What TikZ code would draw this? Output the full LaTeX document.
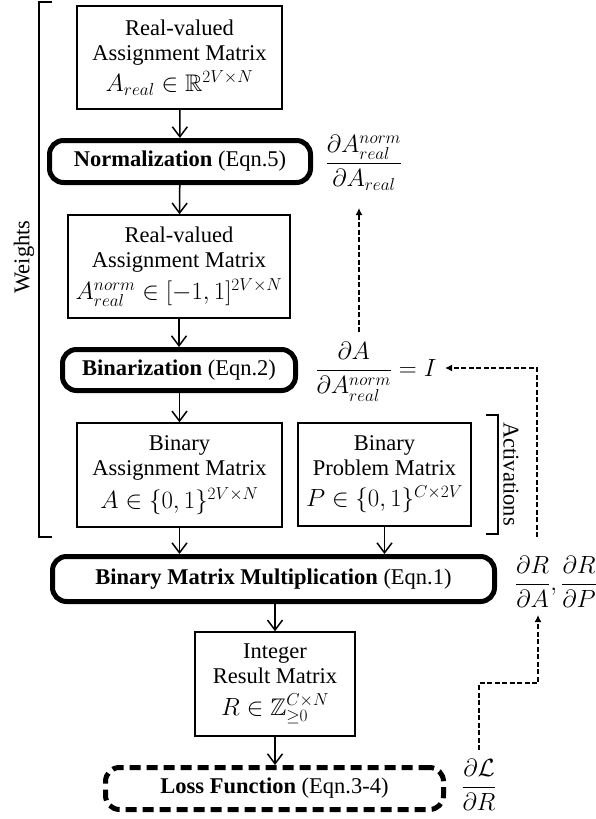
\documentclass[tikz,border=0pt]{standalone}
\usepackage{amsmath,amssymb}
\usepackage{fontspec}
\setmainfont{Liberation Serif}
\usetikzlibrary{arrows.meta}
\newcommand{\mth}[1]{{\fontsize{24}{27}\selectfont$#1$}}
\newcommand{\glab}[1]{{\fontsize{25}{28}\selectfont$\displaystyle #1$}}
\begin{document}
\begin{tikzpicture}[x=1pt,y=-1pt,
  font=\fontsize{22.5}{25}\selectfont,
  box/.style={draw, line width=1.5pt, rectangle, align=center, inner sep=0pt},
  opbox/.style={draw, line width=5pt, rounded corners=14pt, align=center, inner sep=0pt},
  lossbox/.style={opbox, dash pattern=on 11pt off 6pt},
  flow/.style={line width=1.5pt, -{Straight Barb[length=10pt,width=15pt,line width=1.5pt]}},
  grad/.style={line width=1.4pt, dash pattern=on 5pt off 2.5pt, -{Latex[length=7pt,width=7pt]}},
  brk/.style={line width=1.5pt}]
\useasboundingbox (0,0) rectangle (596,819);

% boxes
\node[box, minimum width=205pt, minimum height=103pt] (b1) at (179.5,57.5)
  {Real-valued\\Assignment Matrix\\[5pt]\mth{A_{real}\in\mathbb{R}^{2V\times N}}};
\node[opbox, minimum width=261pt, minimum height=42pt] (norm) at (180,161.5)
  {\textbf{Normalization} (Eqn.5)};
\node[box, minimum width=222pt, minimum height=103pt] (b2) at (179,266.5)
  {Real-valued\\Assignment Matrix\\[5pt]\mth{A^{norm}_{real}\in[-1,1]^{2V\times N}}};
\node[opbox, minimum width=233pt, minimum height=41pt] (bin) at (179,370)
  {\textbf{Binarization} (Eqn.2)};
\node[box, minimum width=205pt, minimum height=104pt] (b3) at (179.5,475)
  {Binary\\Assignment Matrix\\[6pt]\mth{A\in\{0,1\}^{2V\times N}}};
\node[box, minimum width=173pt, minimum height=103pt] (b4) at (384.5,474.5)
  {Binary\\Problem Matrix\\[6pt]\mth{P\in\{0,1\}^{C\times 2V}}};
\node[opbox, minimum width=442pt, minimum height=45pt] (bmm) at (273.5,579)
  {\textbf{Binary Matrix Multiplication} (Eqn.1)};
\node[box, minimum width=160pt, minimum height=104pt] (b5) at (275,684)
  {Integer\\Result Matrix\\[7pt]\mth{R\in\mathbb{Z}^{C\times N}_{\geq 0}}};
\node[lossbox, minimum width=338pt, minimum height=42pt] (loss) at (274.5,788.5)
  {\textbf{Loss Function} (Eqn.3-4)};

% forward arrows
\draw[flow] (b1) -- (norm);
\draw[flow] (norm) -- (b2);
\draw[flow] (b2) -- (bin);
\draw[flow] (bin.south -| b3) -- (b3);
\draw[flow] (b3.south) -- (b3.south |- bmm.north);
\draw[flow] (b4.south) -- (b4.south |- bmm.north);
\draw[flow] (bmm.south -| b5) -- (b5);
\draw[flow] (b5.south) -- (b5.south |- loss.north);

% gradient labels
\node (g1) at (364,163) {\glab{\frac{\partial A^{norm}_{real}}{\partial A_{real}}}};
\node (g2) at (376,372) {\glab{\frac{\partial A}{\partial A^{norm}_{real}}=I}};
\node (g3) at (556,582) {\glab{\frac{\partial R}{\partial A},\frac{\partial R}{\partial P}}};
\node (g4) at (479,785) {\glab{\frac{\partial \mathcal{L}}{\partial R}}};

% gradient connectors
\coordinate (s4) at (479,750);
\coordinate (t3) at (538,615);
\draw[grad] (s4) |- (538,683) -- (t3);
\coordinate (s3) at (537,537);
\coordinate (t2) at (445,368);
\draw[grad] (s3) |- (t2);
\coordinate (s2) at (359,332);
\coordinate (t1) at (359,208);
\draw[grad] (s2) -- (t1);

% brackets
\draw[brk] (52,2) -- (39,2) -- (39,537) -- (52,537);
\node[rotate=90] (wl) at (24,257) {Weights};
\draw[brk] (486,415) -- (498,415) -- (498,534) -- (486,534);
\node[rotate=-90] (al) at (511,474) {Activations};
\end{tikzpicture}
\end{document}
